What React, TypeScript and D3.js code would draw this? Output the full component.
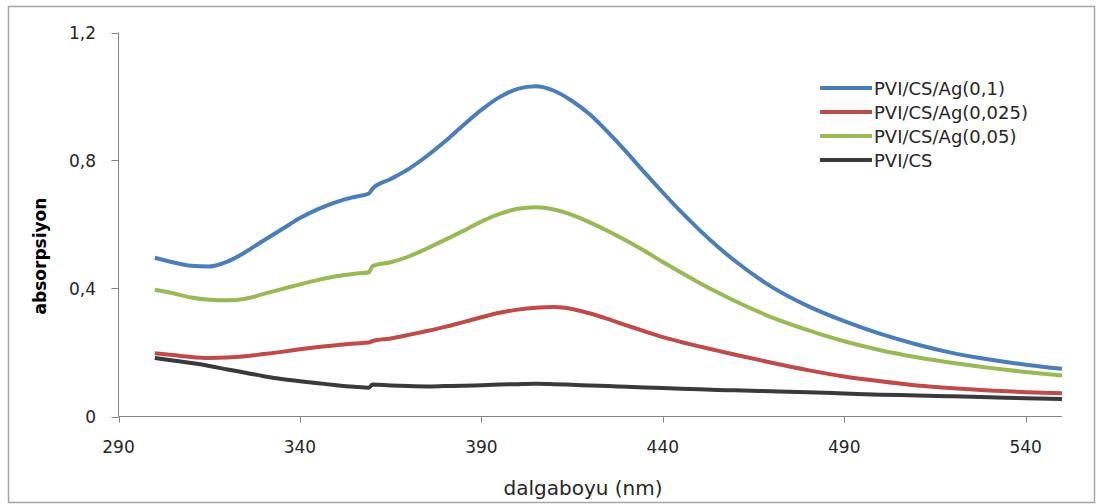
import React from "react";
import * as d3 from "d3";

const wavelengths = [300, 305, 310, 315, 320, 325, 330, 335, 340, 345, 350, 355, 359, 360, 365, 370, 375, 380, 385, 390, 395, 400, 405, 410, 415, 420, 425, 430, 435, 440, 445, 450, 455, 460, 470, 480, 490, 500, 510, 520, 530, 540, 550];

const ag01 = [0.496, 0.482, 0.471, 0.469, 0.484, 0.514, 0.55, 0.585, 0.62, 0.648, 0.67, 0.686, 0.697, 0.712, 0.742, 0.774, 0.814, 0.86, 0.91, 0.958, 0.998, 1.024, 1.032, 1.018, 0.986, 0.943, 0.887, 0.826, 0.762, 0.7, 0.64, 0.584, 0.532, 0.485, 0.405, 0.345, 0.298, 0.258, 0.225, 0.198, 0.178, 0.162, 0.149];
const ag0025 = [0.198, 0.192, 0.186, 0.183, 0.184, 0.188, 0.195, 0.202, 0.21, 0.217, 0.223, 0.228, 0.231, 0.236, 0.244, 0.255, 0.267, 0.28, 0.295, 0.31, 0.324, 0.334, 0.34, 0.342, 0.336, 0.322, 0.304, 0.285, 0.266, 0.248, 0.233, 0.219, 0.206, 0.193, 0.168, 0.145, 0.125, 0.11, 0.097, 0.088, 0.081, 0.076, 0.073];
const ag005 = [0.396, 0.385, 0.372, 0.365, 0.363, 0.368, 0.383, 0.398, 0.413, 0.427, 0.438, 0.446, 0.451, 0.47, 0.482, 0.5, 0.525, 0.552, 0.58, 0.609, 0.633, 0.649, 0.654, 0.647, 0.63, 0.606, 0.579, 0.549, 0.517, 0.483, 0.45, 0.418, 0.388, 0.36, 0.31, 0.27, 0.235, 0.207, 0.185, 0.167, 0.152, 0.139, 0.128];
const pvics = [0.183, 0.175, 0.167, 0.158, 0.147, 0.137, 0.126, 0.117, 0.11, 0.104, 0.098, 0.093, 0.09, 0.1, 0.097, 0.095, 0.094, 0.095, 0.096, 0.098, 0.1, 0.101, 0.102, 0.101, 0.099, 0.097, 0.095, 0.093, 0.091, 0.089, 0.087, 0.085, 0.083, 0.082, 0.079, 0.076, 0.072, 0.068, 0.066, 0.063, 0.06, 0.057, 0.055];

const seriesNames = ["PVI/CS/Ag(0,1)", "PVI/CS/Ag(0,025)", "PVI/CS/Ag(0,05)", "PVI/CS"];
const seriesValues = [ag01, ag0025, ag005, pvics];
const seriesColors = ["#4a7ebb", "#be4b48", "#98b954", "#3a3a3a"];

const xTicks = [290, 340, 390, 440, 490, 540];
const yTicks = [0, 0.4, 0.8, 1.2];
const yTickLabels = ["0", "0,4", "0,8", "1,2"];

export default function App() {
  const x = d3.scaleLinear().domain([290, 550]).range([118.5, 1062]);
  const y = d3.scaleLinear().domain([0, 1.2]).range([416.5, 32.5]);
  const line = d3
    .line<number>()
    .x((_, i) => x(wavelengths[i]))
    .y((d) => y(d))
    .curve(d3.curveMonotoneX);

  const axisColor = "#868686";
  const textColor = "#262626";
  const font = "DejaVu Sans";

  return (
    <svg
      width={1098}
      height={504}
      style={{ position: "absolute", left: 0, top: 0, background: "#fff" }}
    >
      <rect x={8.5} y={6.5} width={1086} height={496} fill="#fff" stroke="#a6a6a6" strokeWidth={1.5} />
      <line x1={x(290)} x2={x(550)} y1={y(0)} y2={y(0)} stroke={axisColor} />
      <line x1={x(290)} x2={x(290)} y1={y(0)} y2={y(1.2)} stroke={axisColor} />
      {xTicks.map((t) => (
        <g key={"x" + t}>
          <line x1={Math.round(x(t)) + 0.5} x2={Math.round(x(t)) + 0.5} y1={y(0)} y2={y(0) + 6} stroke={axisColor} />
          <text x={x(t)} y={453} textAnchor="middle" fontFamily={font} fontSize={17} fill={textColor}>
            {t}
          </text>
        </g>
      ))}
      {yTicks.map((t, i) => (
        <g key={"y" + t}>
          <line x1={x(290) - 7} x2={x(290)} y1={Math.round(y(t)) + 0.5} y2={Math.round(y(t)) + 0.5} stroke={axisColor} />
          <text x={96} y={y(t) + 6} textAnchor="end" fontFamily={font} fontSize={17} fill={textColor}>
            {yTickLabels[i]}
          </text>
        </g>
      ))}
      <text
        transform="translate(46,256) rotate(-90)"
        textAnchor="middle"
        fontFamily={font}
        fontWeight="bold"
        fontSize={17}
        fill="#000"
      >
        absorpsiyon
      </text>
      <text x={583} y={495} textAnchor="middle" fontFamily={font} fontSize={20} fill={textColor}>
        dalgaboyu (nm)
      </text>
      {[3, 1, 2, 0].map((k) => (
        <path
          key={"s" + k}
          d={line(seriesValues[k]) || ""}
          fill="none"
          stroke={seriesColors[k]}
          strokeWidth={4}
          strokeLinejoin="round"
        />
      ))}
      {seriesNames.map((name, i) => {
        const cy = 88 + i * 24;
        return (
          <g key={"l" + i}>
            <line x1={820} x2={872} y1={cy} y2={cy} stroke={seriesColors[i]} strokeWidth={4} />
            <text x={874} y={cy + 6.5} fontFamily={font} fontSize={18} fill={textColor}>
              {name}
            </text>
          </g>
        );
      })}
    </svg>
  );
}
